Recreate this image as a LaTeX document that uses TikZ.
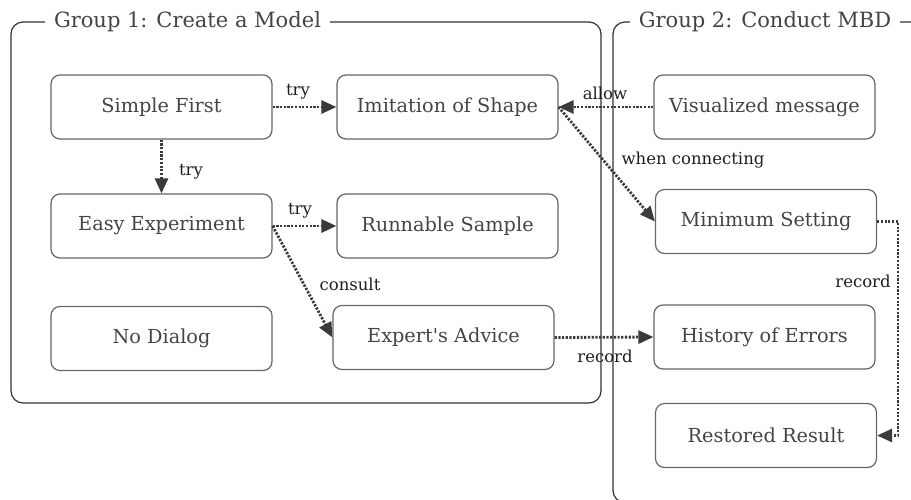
\documentclass[tikz,border=0pt]{standalone}
\usepackage{fontspec}
\setmainfont{DejaVu Serif}
\usetikzlibrary{arrows.meta}
\definecolor{boxline}{HTML}{666666}
\definecolor{boxtext}{HTML}{444444}
\definecolor{edgecol}{HTML}{3A3A3A}
\definecolor{grpline}{HTML}{333333}
\tikzset{
  box/.style={draw=boxline, line width=1.2pt, rounded corners=9pt, minimum width=221pt, minimum height=64pt, inner sep=0pt, text=boxtext, font=\fontsize{19.3}{22}\selectfont},
  conn/.style={draw=edgecol, line width=2.8pt, dash pattern=on 2.2pt off 1.5pt, -{Triangle[length=15pt,width=13pt]}},
  lbl/.style={text=black!88, font=\fontsize{16.5}{19}\selectfont, inner sep=1pt},
  grp/.style={draw=grpline, line width=1.2pt, rounded corners=12pt},
  grptitle/.style={fill=white, text=boxtext, font=\fontsize{21}{24}\selectfont, inner xsep=9pt, inner ysep=3pt}
}
\begin{document}
\begin{tikzpicture}[x=1pt,y=-1pt]
\useasboundingbox (0,0) rectangle (911,499);
\begin{scope}
\clip (0,0) rectangle (911,499);
% groups
\draw[grp] (11,22) rectangle (601,403);
\draw[grp] (613,22) rectangle (960,502.5);
\node[grptitle] (g1) at (187.5,22) {Group 1: Create a Model};
\node[grptitle] (g2) at (765,22) {Group 2: Conduct MBD};
\end{scope}
% nodes
\node[box] (simple) at (161.5,107) {Simple First};
\node[box] (imit) at (447.5,107) {Imitation of Shape};
\node[box] (vis) at (764.5,107) {Visualized message};
\node[box] (easy) at (161.5,226) {Easy Experiment};
\node[box] (run) at (447.5,226) {Runnable Sample};
\node[box] (minset) at (766,221.5) {Minimum Setting};
\node[box] (nodlg) at (161.5,338.5) {No Dialog};
\node[box] (expert) at (443.5,337.5) {Expert\textquotesingle s Advice};
\node[box] (hist) at (764.5,337) {History of Errors};
\node[box] (rest) at (766,435.5) {Restored Result};
% connectors
\draw[conn] (simple.east) -- (imit.west);
\draw[conn] (simple.south) -- (easy.north);
\draw[conn] (easy.east) -- (run.west);
\draw[conn] (easy.east) -- (expert.west);
\draw[conn] (vis.west) -- (imit.east);
\draw[conn] (imit.east) -- (minset.west);
\draw[conn] (expert.east) -- (hist.west);
\coordinate (rr1) at (898,221.5);
\coordinate (rr2) at (898,435.5);
\draw[conn] (minset.east) -- (rr1) -- (rr2) -- (rest.east);
% labels
\node[lbl] (l1) at (298,92) {try};
\node[lbl] (l2) at (191,172) {try};
\node[lbl] (l3) at (300,211) {try};
\node[lbl] (l4) at (350,284) {consult};
\node[lbl] (l5) at (605,93) {allow};
\node[lbl] (l6) at (693,160) {when connecting};
\node[lbl] (l7) at (605,356) {record};
\node[lbl] (l8) at (863,281) {record};
\end{tikzpicture}
\end{document}
